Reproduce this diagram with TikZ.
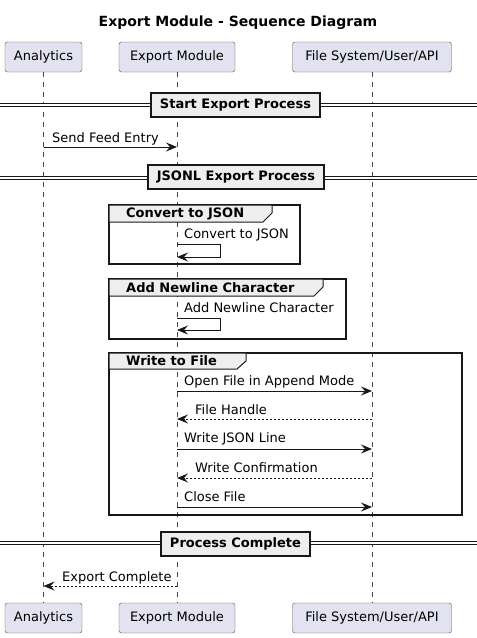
\documentclass[tikz,border=0pt]{standalone}
\usepackage{fontspec}
\setmainfont{DejaVu Sans}
\usetikzlibrary{arrows.meta}
\usetikzlibrary{positioning}
\definecolor{partfill}{HTML}{E2E2F0}
\definecolor{hdrfill}{HTML}{EEEEEE}
\definecolor{ink}{HTML}{181818}

\begin{document}
\begin{tikzpicture}[x=1pt, y=-1pt,
    part/.style={draw=ink!75, fill=partfill, rounded corners=2.5pt, minimum height=30pt, inner sep=0pt, font=\fontsize{13}{15}\selectfont},
    lifeline/.style={draw=ink!80, line width=0.5pt, dash pattern=on 5pt off 5pt},
    divline/.style={draw=ink, line width=1pt, double=white, double distance=2.2pt},
    divbox/.style={draw=ink, fill=hdrfill, line width=1.5pt, minimum height=24pt, inner xsep=9pt, font=\bfseries\fontsize{13}{15}\selectfont},
    grpframe/.style={draw=ink, line width=1.5pt},
    grptab/.style={draw=ink, fill=hdrfill, line width=1pt},
    grplabel/.style={anchor=west, inner sep=0pt, font=\bfseries\fontsize{13}{15}\selectfont},
    msglabel/.style={anchor=west, inner sep=0pt, font=\fontsize{13}{15}\selectfont},
    msg/.style={draw=ink, line width=1pt, -{Stealth[length=11pt, width=9pt, inset=4pt]}},
    reply/.style={msg, dash pattern=on 2pt off 2pt}]
    \useasboundingbox (0,0) rectangle (477,638);

    % title
    \node[font=\bfseries\fontsize{14}{16}\selectfont] (title) at (238,23) {Export Module - Sequence Diagram};

    % participants
    \node[part, minimum width=77pt] (anaT) at (43.5,57) {Analytics};
    \node[part, minimum width=116pt] (expT) at (177,57) {Export Module};
    \node[part, minimum width=159pt] (fsT) at (372,57) {File System/User/API};
    \node[part, minimum width=77pt] (anaB) at (43.5,618) {Analytics};
    \node[part, minimum width=116pt] (expB) at (177,618) {Export Module};
    \node[part, minimum width=159pt] (fsB) at (372,618) {File System/User/API};

    \draw[lifeline] (anaT) -- (anaB);
    \draw[lifeline] (expT) -- (expB);
    \draw[lifeline] (fsT) -- (fsB);

    % rows
    \coordinate (rSend) at (0,147);
    \coordinate (rConvA) at (0,244);
    \coordinate (rConvB) at (0,257);
    \coordinate (rNlA) at (0,318);
    \coordinate (rNlB) at (0,330);
    \coordinate (rOpen) at (0,391);
    \coordinate (rHandle) at (0,419);
    \coordinate (rWrite) at (0,449);
    \coordinate (rConfirm) at (0,478);
    \coordinate (rClose) at (0,507);
    \coordinate (rDone) at (0,586);

    % start divider
    \draw[divline] (0,105) -- (477,105);
    \node[divbox] (divStart) at (235.5,105) {Start Export Process};

    \node[msglabel] (lSend) at (52,139) {Send Feed Entry};
    \draw[msg] (anaT |- rSend) -- (expT |- rSend);

    % jsonl divider
    \draw[divline] (0,178) -- (477,178);
    \node[divbox] (divJsonl) at (236,177) {JSONL Export Process};

    % group: convert
    \draw[grpframe] (109,205) rectangle (300,264);
    \draw[grptab] (109,205) -- (272,205) -- (272,213) -- (263,222) -- (109,222) -- cycle;
    \node[grplabel] (gConv) at (126,214) {Convert to JSON};
    \node[msglabel] (lConv) at (184,235) {Convert to JSON};
    \draw[msg] (expT |- rConvA) -- ++(43,0) -- ++(0,13) -- (expT |- rConvB);

    % group: newline
    \draw[grpframe] (109,279) rectangle (346,339);
    \draw[grptab] (109,279) -- (323,279) -- (323,287) -- (314,296) -- (109,296) -- cycle;
    \node[grplabel] (gNl) at (126,288) {Add Newline Character};
    \node[msglabel] (lNl) at (184,308) {Add Newline Character};
    \draw[msg] (expT |- rNlA) -- ++(43,0) -- ++(0,12) -- (expT |- rNlB);

    % group: write
    \draw[grpframe] (109,353) rectangle (462,515);
    \draw[grptab] (109,353) -- (246,353) -- (246,361) -- (237,369) -- (109,369) -- cycle;
    \node[grplabel] (gWrite) at (126,361) {Write to File};

    \node[msglabel] (lOpen) at (184,382) {Open File in Append Mode};
    \draw[msg] (expT |- rOpen) -- (fsT |- rOpen);
    \node[msglabel] (lHandle) at (195,410) {File Handle};
    \draw[reply] (fsT |- rHandle) -- (expT |- rHandle);
    \node[msglabel] (lWrite) at (184,439) {Write JSON Line};
    \draw[msg] (expT |- rWrite) -- (fsT |- rWrite);
    \node[msglabel] (lConfirm) at (195,468) {Write Confirmation};
    \draw[reply] (fsT |- rConfirm) -- (expT |- rConfirm);
    \node[msglabel] (lClose) at (184,497) {Close File};
    \draw[msg] (expT |- rClose) -- (fsT |- rClose);

    % complete divider
    \draw[divline] (0,543) -- (477,543);
    \node[divbox] (divDone) at (235.5,544) {Process Complete};

    \node[msglabel] (lDone) at (62,578) {Export Complete};
    \draw[reply] (expT |- rDone) -- (anaT |- rDone);
\end{tikzpicture}
\end{document}
